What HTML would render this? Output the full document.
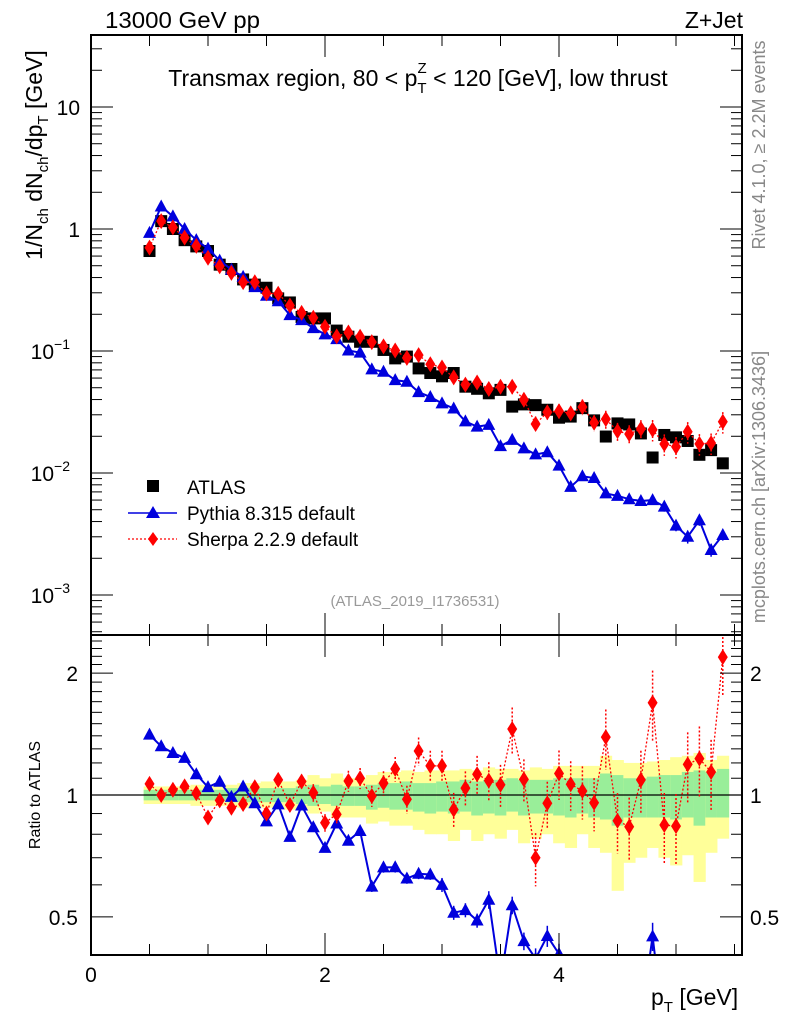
<!DOCTYPE html>
<html><head><meta charset="utf-8"><style>
html,body{margin:0;padding:0;background:#fff;overflow:hidden;width:786px;height:1024px}
svg{display:block;font-family:"Liberation Sans",Arial,sans-serif}
</style></head><body>
<svg id="chart" width="786" height="1024" viewBox="0 0 786 1024" xmlns="http://www.w3.org/2000/svg">
<defs>
<clipPath id="clipMain"><rect x="91" y="35" width="651" height="600"/></clipPath>
<clipPath id="clipRatio"><rect x="91" y="635" width="651" height="320"/></clipPath>
</defs>
<g id="bands" clip-path="url(#clipRatio)"></g>
<g id="marks"></g>
<g id="axes"></g>
<text x="105" y="28" font-size="23" textLength="155" lengthAdjust="spacingAndGlyphs">13000 GeV pp</text>
<text x="743" y="28" font-size="23" text-anchor="end">Z+Jet</text>
<text x="418" y="86" font-size="23" text-anchor="middle">Transmax region, 80 &lt; p<tspan font-size="15" dy="7">T</tspan><tspan font-size="15" dx="-9" dy="-20">Z</tspan><tspan dy="13"> &lt; 120 [GeV], low thrust</tspan></text>
<text transform="translate(42,155) rotate(-90)" font-size="23" text-anchor="middle">1/N<tspan font-size="15" dy="6">ch</tspan><tspan dy="-6"> dN</tspan><tspan font-size="15" dy="6">ch</tspan><tspan dy="-6">/dp</tspan><tspan font-size="15" dy="6">T</tspan><tspan dy="-6"> [GeV]</tspan></text>
<text transform="translate(40,795) rotate(-90)" font-size="16" text-anchor="middle">Ratio to ATLAS</text>
<text transform="translate(765,145) rotate(-90)" font-size="18" fill="#888" text-anchor="middle">Rivet 4.1.0, ≥ 2.2M events</text>
<text transform="translate(765,487) rotate(-90)" font-size="18" fill="#888" text-anchor="middle">mcplots.cern.ch [arXiv:1306.3436]</text>
<text x="415" y="606" font-size="15" fill="#999" text-anchor="middle">(ATLAS_2019_I1736531)</text>
<text x="651" y="1005" font-size="23">p<tspan font-size="15" dy="7">T</tspan><tspan dy="-7"> [GeV]</tspan></text>
<g>
<rect x="147" y="480" width="12" height="12" fill="#000"/>
<text x="187" y="494" font-size="19">ATLAS</text>
<line x1="128" y1="513" x2="177" y2="513" stroke="#0000dd" stroke-width="1.5"/>
<polygon points="153,506 160,518 146,518" fill="#0000dd"/>
<text x="187" y="520" font-size="19">Pythia 8.315 default</text>
<line x1="128" y1="539" x2="177" y2="539" stroke="#f00" stroke-width="1.2" stroke-dasharray="2,2"/>
<polygon points="153,532 158,539 153,546 148,539" fill="#f00"/>
<text x="187" y="546" font-size="19">Sherpa 2.2.9 default</text>
</g>
</svg>
<script>
const xBins = [0.5,0.6,0.7,0.8,0.9,1.0,1.1,1.2,1.3,1.4,1.5,1.6,1.7,1.8,1.9,2.0,2.1,2.2,2.3,2.4,2.5,2.6,2.7,2.8,2.9,3.0,3.1,3.2,3.3,3.4,3.5,3.6,3.7,3.8,3.9,4.0,4.1,4.2,4.3,4.4,4.5,4.6,4.7,4.8,4.9,5.0,5.1,5.2,5.3,5.4];
const atlasVals = [0.66,1.16,1.0,0.81,0.72,0.66,0.51,0.47,0.386,0.35,0.33,0.27,0.25,0.19,0.185,0.185,0.147,0.131,0.119,0.119,0.102,0.087,0.090,0.072,0.066,0.062,0.066,0.051,0.049,0.045,0.048,0.035,0.0365,0.036,0.033,0.0284,0.029,0.034,0.027,0.0199,0.0255,0.025,0.0211,0.0134,0.0205,0.0196,0.0183,0.0141,0.0154,0.0120];
const pythiaVals = [0.93,1.53,1.27,1.0,0.81,0.69,0.55,0.465,0.405,0.334,0.284,0.256,0.197,0.179,0.154,0.137,0.125,0.101,0.097,0.0707,0.0676,0.0577,0.056,0.046,0.042,0.0372,0.0338,0.0265,0.024,0.0248,0.0166,0.0187,0.0159,0.0142,0.0148,0.0115,0.0077,0.0094,0.0091,0.0068,0.0065,0.0061,0.0059,0.0060,0.0053,0.0037,0.0030,0.0041,0.00234,0.0031];
const sherpaRatio = [1.065,1.0,1.03,1.05,1.01,0.88,0.97,0.93,0.95,1.045,0.90,1.09,0.945,1.08,1.013,0.854,0.896,1.083,1.10,0.994,1.07,1.16,0.976,1.284,1.18,1.18,0.92,1.04,1.125,1.085,1.06,1.455,1.093,0.70,0.954,1.13,1.063,1.023,0.957,1.39,0.864,0.835,1.09,1.69,0.843,0.838,1.19,1.23,1.14,2.19];
const pythiaRelErr = [0.01,0.01,0.01,0.01,0.01,0.01,0.01,0.01,0.01,0.01,0.01,0.01,0.015,0.015,0.015,0.02,0.02,0.02,0.02,0.03,0.03,0.03,0.03,0.03,0.03,0.04,0.04,0.04,0.04,0.05,0.05,0.05,0.05,0.06,0.06,0.06,0.07,0.07,0.07,0.07,0.08,0.08,0.08,0.08,0.09,0.1,0.12,0.1,0.12,0.1];
const sherpaRelErr = [0.03,0.02,0.02,0.02,0.02,0.03,0.03,0.03,0.03,0.03,0.04,0.04,0.04,0.04,0.05,0.05,0.05,0.06,0.06,0.06,0.07,0.07,0.08,0.08,0.09,0.09,0.1,0.1,0.11,0.11,0.12,0.13,0.12,0.15,0.13,0.14,0.14,0.15,0.15,0.17,0.17,0.18,0.18,0.2,0.2,0.2,0.2,0.2,0.2,0.2];
const yellowHi = [1.05,1.05,1.05,1.05,1.06,1.06,1.06,1.06,1.07,1.07,1.08,1.08,1.08,1.09,1.12,1.10,1.13,1.10,1.10,1.12,1.14,1.14,1.15,1.14,1.15,1.15,1.15,1.16,1.15,1.17,1.16,1.16,1.15,1.17,1.16,1.18,1.18,1.18,1.18,1.25,1.22,1.20,1.20,1.21,1.22,1.24,1.25,1.27,1.22,1.25];
const yellowLo = [0.95,0.95,0.95,0.95,0.94,0.94,0.94,0.94,0.93,0.93,0.93,0.93,0.92,0.92,0.90,0.91,0.88,0.88,0.88,0.85,0.86,0.84,0.84,0.82,0.80,0.80,0.77,0.82,0.77,0.80,0.78,0.82,0.76,0.78,0.80,0.76,0.74,0.80,0.74,0.72,0.58,0.68,0.70,0.74,0.70,0.67,0.71,0.61,0.72,0.78];
const greenHi = [1.03,1.03,1.03,1.03,1.03,1.03,1.03,1.04,1.04,1.04,1.04,1.04,1.04,1.05,1.06,1.05,1.06,1.05,1.05,1.06,1.07,1.07,1.08,1.07,1.07,1.08,1.08,1.09,1.08,1.09,1.09,1.10,1.09,1.09,1.09,1.10,1.10,1.10,1.10,1.13,1.12,1.10,1.10,1.11,1.12,1.12,1.14,1.15,1.14,1.16];
const greenLo = [0.97,0.97,0.97,0.97,0.97,0.97,0.97,0.96,0.96,0.96,0.96,0.96,0.96,0.95,0.94,0.95,0.94,0.94,0.94,0.92,0.93,0.92,0.92,0.91,0.90,0.91,0.90,0.91,0.89,0.90,0.89,0.91,0.89,0.90,0.90,0.89,0.88,0.90,0.88,0.87,0.84,0.88,0.88,0.88,0.88,0.87,0.88,0.84,0.88,0.88];
const mainTickLabels = ["10","1","10","10","10"];
const mainTickPowers = [1,0,-1,-2,-3];
const xTickLabels = ["0","2","4"];
const ratioTickLabels = ["0.5","1","2"];
const ratioTickVals = [0.5,1,2];

const NS="http://www.w3.org/2000/svg";
const X0=91,X1=742,YT=35,YM=635,YB=955;
const xs = v => X0 + v*117;
const ys = v => 229 - Math.log10(v)*122;
const yr = v => 795 - Math.log10(v)*405;
function mk(tag,attrs,parent){const e=document.createElementNS(NS,tag);for(const k in attrs)e.setAttribute(k,attrs[k]);parent.appendChild(e);return e;}
const bands=document.getElementById('bands'), marks=document.getElementById('marks'), axes=document.getElementById('axes');

xBins.forEach((x,i)=>{
  const a=xs(x-0.05), b=xs(x+0.05);
  const r1=mk('rect',{x:a,y:yr(yellowHi[i]),width:b-a+0.5,height:yr(yellowLo[i])-yr(yellowHi[i]),fill:'#ffff99'},bands);
  
  
  const r2=mk('rect',{x:a,y:yr(greenHi[i]),width:b-a+0.5,height:yr(greenLo[i])-yr(greenHi[i]),fill:'#99ee99'},bands);
  
  
});
const ref=mk('line',{x1:X0,x2:X1,y1:yr(1),y2:yr(1),stroke:'#000','stroke-width':1.3},marks);



function series(vals,yf,clip,color,dash,shape,errs,name){
  const g=mk('g',{'clip-path':`url(#${clip})`},marks);
  
  
  const pts=xBins.map((x,i)=>[xs(x),yf(vals[i])]);
  const attrs={points:pts.map(p=>p.join(',')).join(' '),fill:'none',stroke:color,'stroke-width':shape==='tri'?2:1.3};
  if(dash)attrs['stroke-dasharray']=dash;
  mk('polyline',attrs,g);
  pts.forEach((p,i)=>{
    if(errs){
      const v=vals[i],e=errs[i];
      const ea={x1:p[0],x2:p[0],y1:yf(v*(1+e)),y2:yf(v*(1-e)),stroke:color,'stroke-width':1.5};
      if(dash)ea['stroke-dasharray']=dash;
      mk('line',ea,g);
    }
    let m;
    if(shape==='tri') m=mk('polygon',{points:`${p[0]},${p[1]-7} ${p[0]+6.5},${p[1]+5} ${p[0]-6.5},${p[1]+5}`,fill:color},g);
    else m=mk('polygon',{points:`${p[0]},${p[1]-8} ${p[0]+5},${p[1]} ${p[0]},${p[1]+8} ${p[0]-5},${p[1]}`,fill:color},g);
    
    
  });
}
const sherpaVals = sherpaRatio.map((r,i)=>r*atlasVals[i]);
const pythiaRatio = pythiaVals.map((v,i)=>v/atlasVals[i]);
(function(){
  const g=mk('g',{'clip-path':'url(#clipMain)'},marks);
  
  
  xBins.forEach((x,i)=>{
    const m=mk('rect',{x:xs(x)-6,y:ys(atlasVals[i])-6,width:12,height:12,fill:'#000'},g);
    
    
  });
})();
series(pythiaVals,ys,'clipMain','#0000dd',null,'tri',pythiaRelErr,'pythia-series');
series(sherpaVals,ys,'clipMain','#ff0000','2,2','dia',sherpaRelErr,'sherpa-series');
series(pythiaRatio,yr,'clipRatio','#0000dd',null,'tri',pythiaRelErr,'pythia-ratio-series');
series(sherpaRatio,yr,'clipRatio','#ff0000','2,2','dia',sherpaRelErr,'sherpa-ratio-series');

const f1=mk('rect',{x:X0,y:YT,width:X1-X0,height:YM-YT,fill:'none',stroke:'#000','stroke-width':2},axes);


const f2=mk('rect',{x:X0,y:YM,width:X1-X0,height:YB-YM,fill:'none',stroke:'#000','stroke-width':2},axes);


function tk(x1,y1,x2,y2){mk('line',{x1,y1,x2,y2,stroke:'#000','stroke-width':1},axes);}
for(let p=-4;p<=1;p++){for(let k=1;k<=9;k++){const y=ys(k*Math.pow(10,p));if(y<YT||y>YM)continue;const L=k===1?22:11;tk(X0,y,X0+L,y);tk(X1,y,X1-L,y);}}
mainTickPowers.forEach((p,i)=>{
  const y=ys(Math.pow(10,p));
  const t=mk('text',{x:p<0?70:80,y:y+8,'font-size':21,'text-anchor':'end'},axes);
  t.textContent=mainTickLabels[i];
  if(p<0){const s=mk('tspan',{'font-size':14,dy:-10},t);s.textContent='−'+(-p);}
  
  
});
for(let v=0.4;v<=2.5;v=+(v+0.1).toFixed(1)){const y=yr(v);if(y<YM||y>YB)continue;const maj=[0.5,1,2].includes(v);const L=maj?22:11;tk(X0,y,X0+L,y);tk(X1,y,X1-L,y);}
ratioTickVals.forEach((v,i)=>{
  const y=yr(v);
  const t=mk('text',{x:78,y:y+8,'font-size':21,'text-anchor':'end'},axes);
  t.textContent=ratioTickLabels[i];
  
  
  const t2=mk('text',{x:750,y:y+8,'font-size':21},axes);
  t2.textContent=ratioTickLabels[i];
  
  
});
for(let v=0;v<=5.5;v+=0.5){const x=xs(v);const maj=Math.abs(v%2)<1e-6;const L=maj?22:11;
  tk(x,YM,x,YM-L);tk(x,YT,x,YT+L);tk(x,YB,x,YB-L);tk(x,YM,x,YM+L);}
xTickLabels.forEach((s,i)=>{
  const t=mk('text',{x:xs(i*2),y:982,'font-size':21,'text-anchor':'middle'},axes);
  t.textContent=s;
  
  
});
</script>
</body></html>
